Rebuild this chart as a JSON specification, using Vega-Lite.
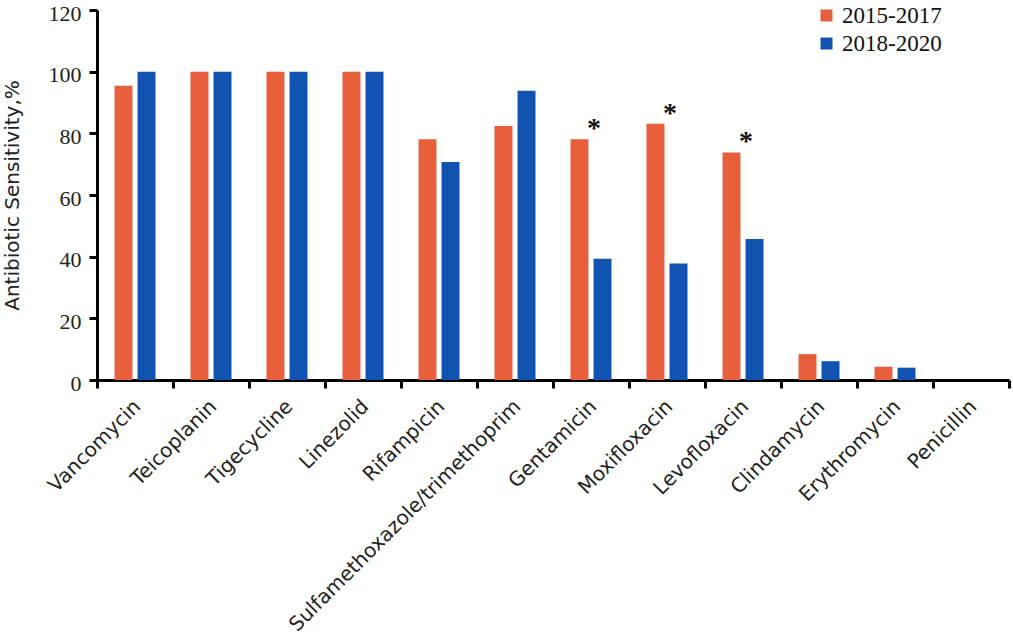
{
  "$schema": "https://vega.github.io/schema/vega-lite/v6.json",
  "background": "white",
  "autosize": {"type": "none"},
  "width": 912,
  "height": 370,
  "padding": {"left": 97, "top": 10, "right": 4, "bottom": 263},
  "data": {
    "values": [
      {"drug": "Vancomycin", "period": "2015-2017", "value": 95.4, "sig": false},
      {"drug": "Vancomycin", "period": "2018-2020", "value": 100, "sig": false},
      {"drug": "Teicoplanin", "period": "2015-2017", "value": 100, "sig": false},
      {"drug": "Teicoplanin", "period": "2018-2020", "value": 100, "sig": false},
      {"drug": "Tigecycline", "period": "2015-2017", "value": 100, "sig": false},
      {"drug": "Tigecycline", "period": "2018-2020", "value": 100, "sig": false},
      {"drug": "Linezolid", "period": "2015-2017", "value": 100, "sig": false},
      {"drug": "Linezolid", "period": "2018-2020", "value": 100, "sig": false},
      {"drug": "Rifampicin", "period": "2015-2017", "value": 78.1, "sig": false},
      {"drug": "Rifampicin", "period": "2018-2020", "value": 70.7, "sig": false},
      {"drug": "Sulfamethoxazole/trimethoprim", "period": "2015-2017", "value": 82.4, "sig": false},
      {"drug": "Sulfamethoxazole/trimethoprim", "period": "2018-2020", "value": 93.8, "sig": false},
      {"drug": "Gentamicin", "period": "2015-2017", "value": 78.1, "sig": true},
      {"drug": "Gentamicin", "period": "2018-2020", "value": 39.3, "sig": false},
      {"drug": "Moxifloxacin", "period": "2015-2017", "value": 83.1, "sig": true},
      {"drug": "Moxifloxacin", "period": "2018-2020", "value": 37.8, "sig": false},
      {"drug": "Levofloxacin", "period": "2015-2017", "value": 73.8, "sig": true},
      {"drug": "Levofloxacin", "period": "2018-2020", "value": 45.7, "sig": false},
      {"drug": "Clindamycin", "period": "2015-2017", "value": 8.4, "sig": false},
      {"drug": "Clindamycin", "period": "2018-2020", "value": 6.1, "sig": false},
      {"drug": "Erythromycin", "period": "2015-2017", "value": 4.3, "sig": false},
      {"drug": "Erythromycin", "period": "2018-2020", "value": 4.0, "sig": false},
      {"drug": "Penicillin", "period": "2015-2017", "value": 0, "sig": false},
      {"drug": "Penicillin", "period": "2018-2020", "value": 0, "sig": false}
    ]
  },
  "encoding": {
    "x": {
      "field": "drug",
      "type": "nominal",
      "sort": null,
      "scale": {"paddingInner": 0, "paddingOuter": 0},
      "axis": {
        "title": null,
        "labelAngle": -45,
        "labelAlign": "right",
        "labelBaseline": "top",
        "labelFont": "DejaVu Sans",
        "labelFontSize": 20,
        "labelColor": "#222222",
        "labelPadding": 8,
        "labelOffset": -5,
        "labelLimit": 0,
        "labelOverlap": false,
        "labelFlush": false,
        "tickBand": "extent",
        "tickSize": 8,
        "tickWidth": 3,
        "tickColor": "black",
        "domainColor": "black",
        "domainWidth": 3,
        "grid": false
      }
    },
    "y": {
      "field": "value",
      "type": "quantitative",
      "scale": {"domain": [0, 120]},
      "axis": {
        "title": "Antibiotic Sensitivity,%",
        "titleFont": "DejaVu Sans",
        "titleFontSize": 20,
        "titleFontWeight": "normal",
        "titleColor": "#222222",
        "titlePadding": 26,
        "values": [0, 20, 40, 60, 80, 100, 120],
        "labelFont": "Liberation Serif",
        "labelFontSize": 22,
        "labelColor": "#222222",
        "labelPadding": 8,
        "labelOffset": 3,
        "labelFlush": false,
        "tickSize": 8,
        "tickWidth": 3,
        "tickColor": "black",
        "domainColor": "black",
        "domainWidth": 3,
        "grid": false
      }
    }
  },
  "layer": [
    {
      "mark": {"type": "bar"},
      "encoding": {
        "xOffset": {
          "field": "period",
          "type": "nominal",
          "scale": {"paddingInner": 0.22, "paddingOuter": 0.76}
        },
        "color": {
          "field": "period",
          "type": "nominal",
          "scale": {"domain": ["2015-2017", "2018-2020"], "range": ["#E8603B", "#1053B0"]},
          "legend": {
            "title": null,
            "orient": "none",
            "legendX": 718,
            "legendY": -6,
            "symbolType": "square",
            "symbolSize": 144,
            "symbolStrokeWidth": 0,
            "labelFont": "Liberation Serif",
            "labelFontSize": 23,
            "labelColor": "#111111",
            "labelOffset": 4,
            "rowPadding": 4
          }
        }
      }
    },
    {
      "transform": [{"filter": "datum.sig && datum.period == '2015-2017'"}],
      "mark": {
        "type": "text",
        "text": "*",
        "font": "Liberation Serif",
        "fontSize": 28,
        "fontWeight": "bold",
        "baseline": "alphabetic",
        "dx": 3,
        "dy": -2,
        "color": "#111111"
      },
      "encoding": {}
    }
  ],
  "config": {
    "view": {"stroke": null}
  }
}
